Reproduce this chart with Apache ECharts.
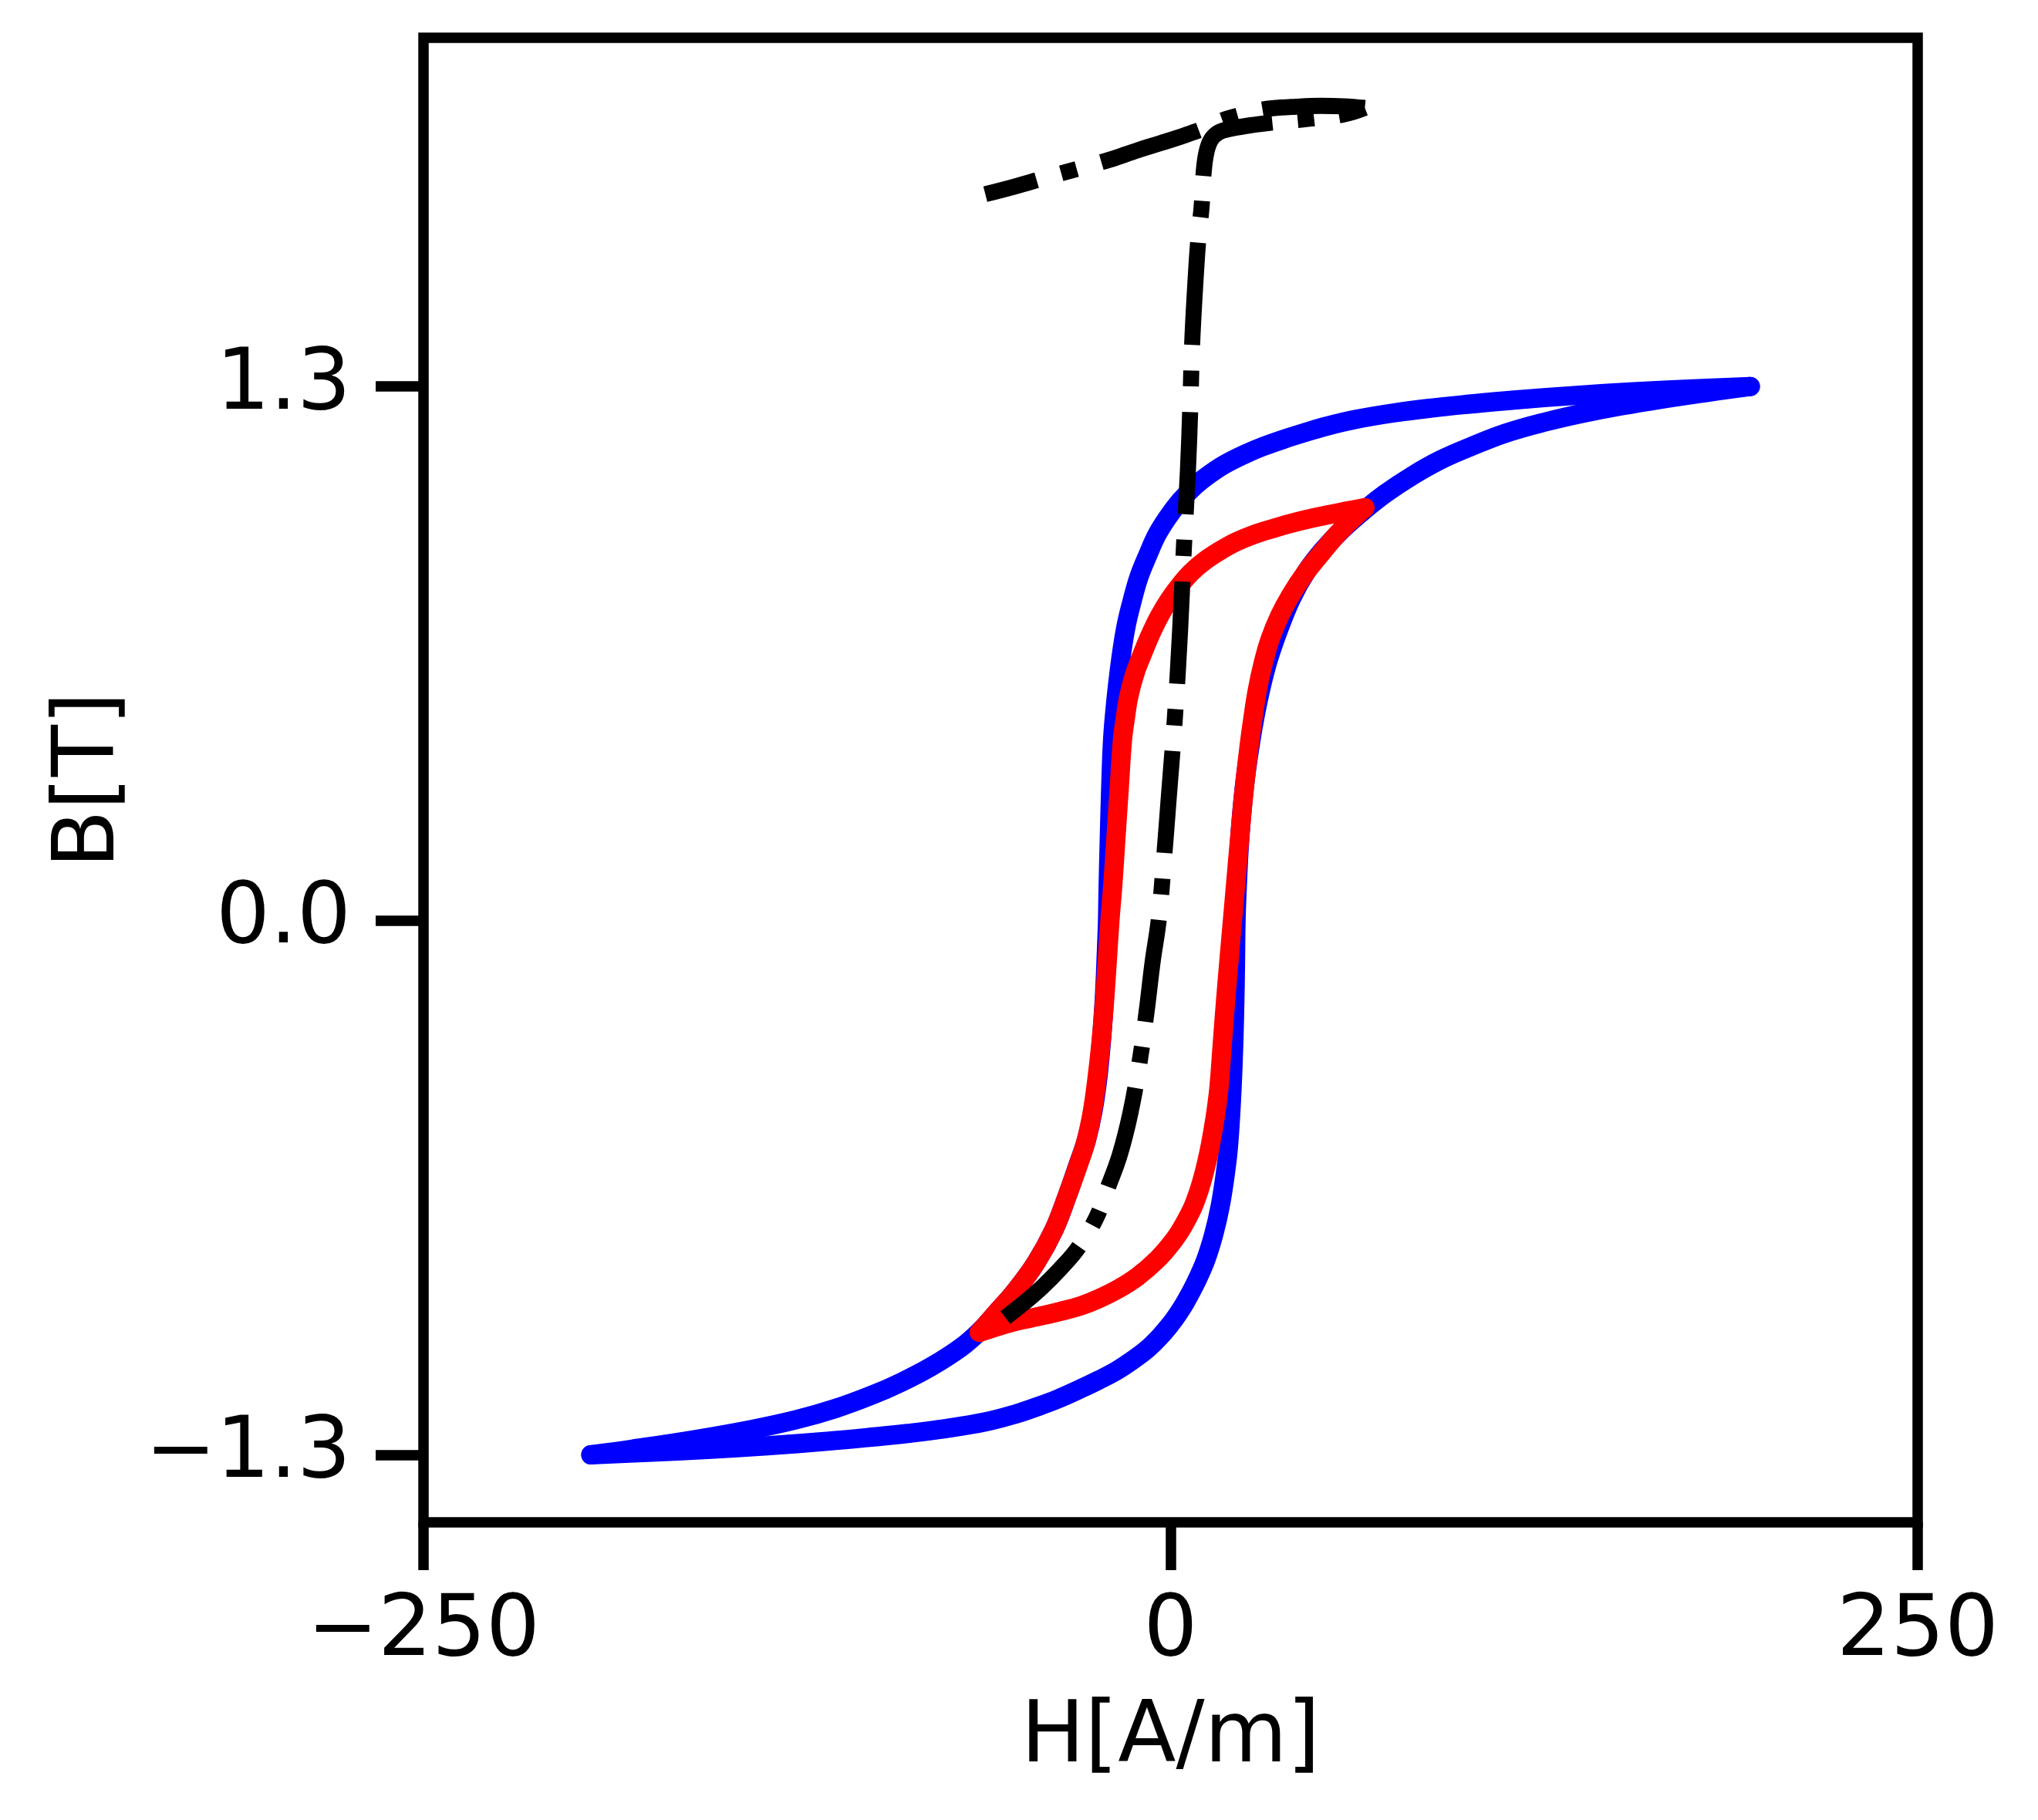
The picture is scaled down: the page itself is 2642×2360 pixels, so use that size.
<!DOCTYPE html>
<html>
<head>
<meta charset="utf-8">
<title>B-H loops</title>
<script src="https://cdn.jsdelivr.net/npm/echarts@6/dist/echarts.min.js"></script>
<style>
html, body { margin: 0; padding: 0; background: #fff; }
#main { width: 2642px; height: 2360px; }
</style>
</head>
<body>
<div id="main"></div>
<script>
// tick positions and their labels
var xTicks = [-250, 0, 250];
var xTickLabels = ['\u2212250', '0', '250'];
var yTicks = [-1.3, 0, 1.3];
var yTickLabels = ['\u22121.3', '0.0', '1.3'];

// major loop (blue), [H, B]
var blueDown = [
  [194, 1.300], [175, 1.294], [155, 1.287], [135, 1.278], [115, 1.267], [100, 1.257],
  [88, 1.248], [75, 1.236], [62, 1.220], [52, 1.203], [44.5, 1.187], [38, 1.172],
  [31, 1.154], [24.8, 1.135], [18, 1.110], [12.8, 1.085], [8, 1.057], [3.2, 1.021],
  [-0.8, 0.983], [-4.5, 0.940], [-7.6, 0.890], [-10.5, 0.838], [-12.8, 0.780],
  [-14.8, 0.720], [-16.3, 0.655], [-17.4, 0.594], [-18.5, 0.520], [-19.4, 0.440],
  [-20.0, 0.330], [-20.5, 0.200], [-20.9, 0.080], [-21.1, 0.0], [-21.5, -0.080],
  [-22.1, -0.180], [-23.0, -0.280], [-24.3, -0.380], [-26.0, -0.465], [-28.2, -0.535],
  [-31, -0.595], [-34.5, -0.668], [-39, -0.752], [-45, -0.832], [-52, -0.902],
  [-58, -0.952], [-64, -1.000], [-70, -1.038], [-80, -1.085], [-90, -1.123],
  [-100, -1.155], [-112, -1.187], [-125, -1.214], [-140, -1.238], [-160, -1.264],
  [-180, -1.286], [-194, -1.300]
];
var blueUp = [
  [-194, -1.300], [-175, -1.294], [-155, -1.287], [-135, -1.278], [-115, -1.267],
  [-100, -1.257], [-88, -1.248], [-75, -1.236], [-62, -1.220], [-52, -1.201],
  [-45, -1.184], [-38, -1.165], [-30.3, -1.140], [-24, -1.118], [-18, -1.095],
  [-13, -1.071], [-8, -1.044], [-3.5, -1.012], [0, -0.982], [2.4, -0.958],
  [5, -0.928], [8.5, -0.880], [11.8, -0.825], [14.5, -0.762], [16.6, -0.695],
  [18.2, -0.622], [19.3, -0.555], [20.2, -0.460], [20.9, -0.350], [21.4, -0.230],
  [21.7, -0.110], [21.9, 0.0], [22.3, 0.080], [22.9, 0.170], [23.8, 0.260],
  [25.1, 0.350], [26.9, 0.440], [29.3, 0.535], [32.3, 0.625], [36, 0.705],
  [40.5, 0.785], [45.5, 0.850], [51, 0.902], [57.5, 0.952], [65, 1.000],
  [72, 1.040], [80.7, 1.082], [90, 1.120], [100, 1.152], [112, 1.186], [125, 1.213],
  [140, 1.238], [160, 1.264], [180, 1.286], [194, 1.300]
];

// minor loop (red)
var redDown = [
  [65, 1.005], [57, 0.994], [49, 0.982], [42, 0.970], [35, 0.956], [28, 0.940],
  [22, 0.922], [16.5, 0.900], [11.5, 0.876], [7, 0.848], [3, 0.815], [-0.5, 0.780],
  [-3.8, 0.740], [-6.8, 0.695], [-9.5, 0.648], [-12, 0.600], [-14, 0.545],
  [-15.2, 0.490], [-16.1, 0.440], [-17.2, 0.320], [-18.3, 0.200], [-19.3, 0.090],
  [-20.3, 0.0], [-21.2, -0.100], [-22.2, -0.205], [-23.4, -0.305], [-24.8, -0.395],
  [-26.3, -0.470], [-28.3, -0.537], [-31, -0.597], [-34.5, -0.668], [-39, -0.752],
  [-45, -0.832], [-52, -0.902], [-58, -0.952], [-64, -1.002]
];
var redUp = [
  [-64, -1.002], [-58, -0.988], [-51.8, -0.975], [-44, -0.963], [-37, -0.951],
  [-30.3, -0.938], [-24, -0.920], [-17.4, -0.896], [-11, -0.866], [-4.5, -0.825],
  [0, -0.788], [2.8, -0.760], [5.2, -0.730], [7.6, -0.695], [9.6, -0.655],
  [11.3, -0.612], [12.8, -0.565], [14.1, -0.515], [15.2, -0.465], [16.2, -0.405],
  [17.2, -0.310], [18.3, -0.205], [19.5, -0.100], [20.7, 0.0], [21.9, 0.100],
  [23.1, 0.200], [24.5, 0.310], [26.2, 0.420], [27.5, 0.490], [29, 0.560],
  [31, 0.627], [33.3, 0.685], [36.5, 0.742], [40.2, 0.792], [45, 0.845],
  [50.5, 0.895], [57, 0.950], [65, 1.005]
];

// dash-dot curve (black): rising part, then the way back
var blackUp = [
  [-55.3, -0.966], [-49, -0.930], [-43, -0.892], [-37, -0.848], [-31, -0.797],
  [-25, -0.725], [-20.8, -0.646], [-17, -0.570], [-13.5, -0.470], [-10.5, -0.350],
  [-8, -0.220], [-6, -0.100], [-4, 0.0], [-2.2, 0.150], [-0.6, 0.300], [1.5, 0.500],
  [3.2, 0.708], [4.5, 0.914], [5.8, 1.095], [6.6, 1.250], [7.2, 1.400], [8.2, 1.540],
  [9.3, 1.660], [10.4, 1.739], [11.1, 1.823], [12, 1.870], [13.5, 1.900],
  [16, 1.918], [20, 1.927], [28, 1.937], [36, 1.944], [47, 1.952], [58, 1.962],
  [65, 1.978]
];
var blackBack = [
  [65, 1.978], [58, 1.982], [50, 1.983], [42, 1.981], [34, 1.977], [28, 1.970],
  [23, 1.960], [17, 1.947], [11.8, 1.930], [5, 1.912], [-3, 1.893], [-11, 1.875],
  [-20.3, 1.852], [-31, 1.830], [-42.4, 1.807], [-52, 1.787], [-62, 1.768]
];

var font = 'DejaVu Sans';
var blueStyle = { color: '#0000ff', width: 25, join: 'round', cap: 'round' };
var redStyle = { color: '#ff0000', width: 25, join: 'round', cap: 'round' };
var blackStyle = { color: '#000', width: 20.8, type: [133, 33, 21, 33], cap: 'butt', join: 'round' };

function tickLabel(values, labels) {
  return function (v) {
    for (var i = 0; i < values.length; i++) {
      if (Math.abs(values[i] - v) < 1e-9) return labels[i];
    }
    return '';
  };
}

function branch(name, data, style) {
  return {
    name: name, type: 'line', data: data,
    showSymbol: false, symbol: 'none', smooth: 0.4,
    lineStyle: style, emphasis: { disabled: true }
  };
}

var chart = echarts.init(document.getElementById('main'), null, { renderer: 'canvas' });

chart.setOption({
  animation: false,
  backgroundColor: '#fff',
  grid: {
    left: 549, right: 156, top: 49, bottom: 386,
    show: true, borderColor: '#000', borderWidth: 13.5,
    backgroundColor: 'transparent'
  },
  xAxis: {
    type: 'value',
    min: -250, max: 250,
    name: 'H[A/m]',
    nameLocation: 'middle',
    nameGap: 226,
    nameTextStyle: { fontFamily: font, fontSize: 110, color: '#000' },
    axisLine: { show: false, onZero: false },
    splitLine: { show: false },
    axisTick: {
      show: true, inside: false, length: 62,
      customValues: xTicks,
      lineStyle: { color: '#000', width: 13.5 }
    },
    axisLabel: {
      customValues: xTicks,
      margin: 88,
      fontFamily: font, fontSize: 110, color: '#000',
      formatter: tickLabel(xTicks, xTickLabels)
    }
  },
  yAxis: {
    type: 'value',
    min: -1.4643, max: 2.1486,
    name: 'B[T]',
    nameLocation: 'middle',
    nameGap: 376,
    nameTextStyle: { fontFamily: font, fontSize: 110, color: '#000' },
    axisLine: { show: false, onZero: false },
    splitLine: { show: false },
    axisTick: {
      show: true, inside: false, length: 62,
      customValues: yTicks,
      lineStyle: { color: '#000', width: 13.5 }
    },
    axisLabel: {
      customValues: yTicks,
      margin: 94,
      fontFamily: font, fontSize: 110, color: '#000',
      formatter: tickLabel(yTicks, yTickLabels)
    }
  },
  series: [
    branch('major-down', blueDown, blueStyle),
    branch('major-up', blueUp, blueStyle),
    branch('minor-down', redDown, redStyle),
    branch('minor-up', redUp, redStyle),
    branch('curve-up', blackUp, blackStyle),
    branch('curve-back', blackBack, blackStyle)
  ]
});
</script>
</body>
</html>
